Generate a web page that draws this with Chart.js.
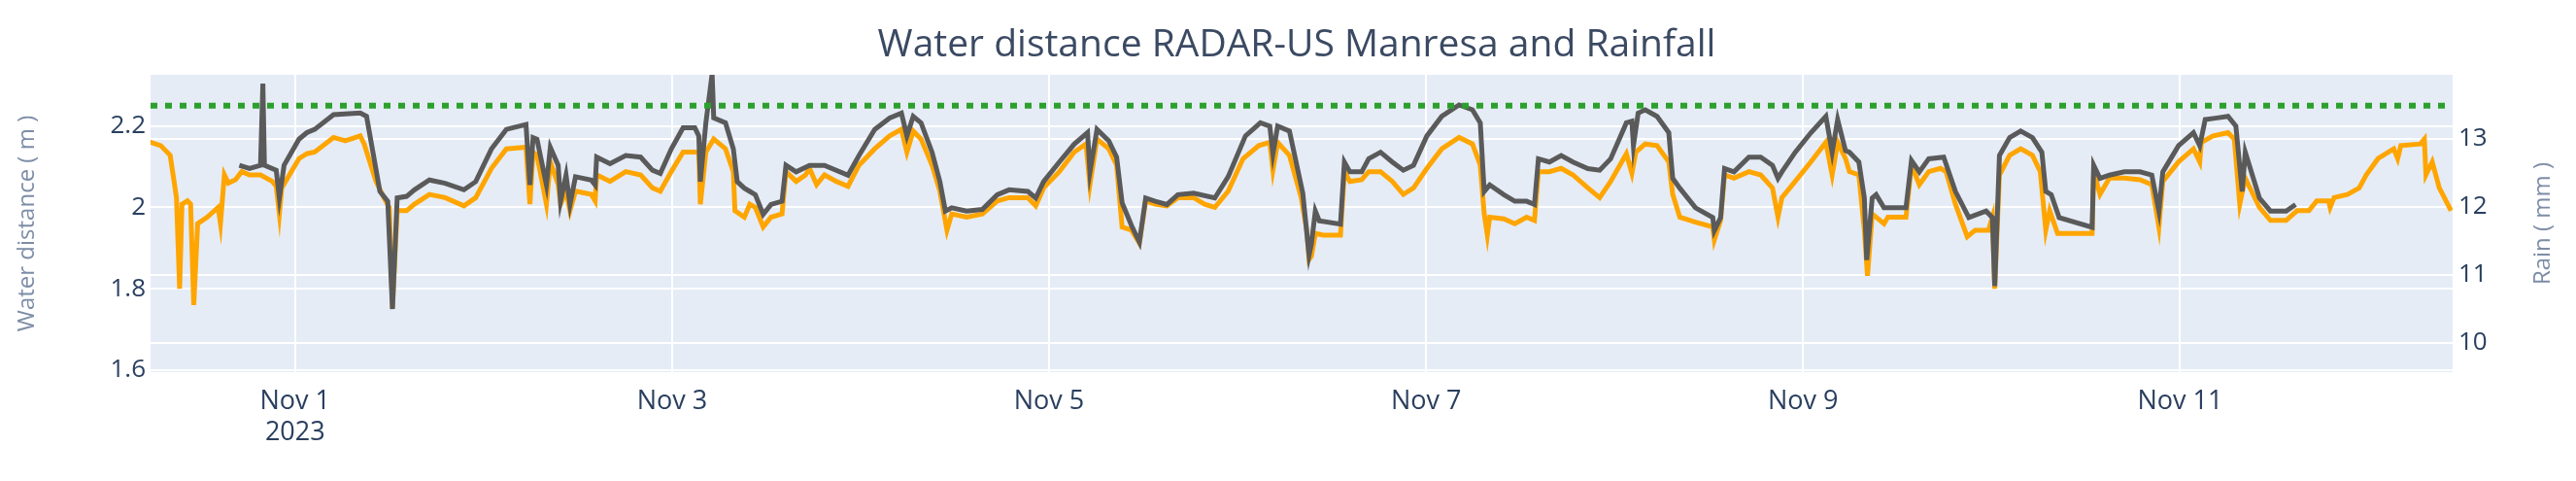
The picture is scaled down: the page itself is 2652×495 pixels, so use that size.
<!DOCTYPE html>
<html><head><meta charset="utf-8">
<script src="https://cdn.jsdelivr.net/npm/chart.js@4"></script>
<style>html,body{margin:0;padding:0;background:#fff}canvas{display:block}</style>
</head><body>
<canvas id="c" width="2652" height="495"></canvas>
<script>
// hours since 2023-10-31 00:00
const waterHours = [4.95,6.9,8.1,8.9,9.3,9.6,10.3,10.7,11.1,11.6,12.8,14.2,14.5,15.0,15.5,16.4,17.2,18.2,19.6,21.1,21.6,22.0,22.3,24.5,25.5,26.5,28.9,30.4,32.3,32.8,34.3,35.3,36.0,36.4,37.0,38.2,39.2,41.1,43.1,45.5,47.0,49.0,50.9,53.4,53.9,54.3,54.8,56.0,56.5,57.5,57.8,58.5,59.0,59.7,61.7,62.2,62.4,64.1,66.1,68.0,69.5,70.5,71.9,73.4,75.4,75.6,76.3,77.3,78.8,79.8,80.0,81.2,81.9,82.6,83.6,84.6,86.0,86.5,87.8,89.0,89.5,90.4,91.4,92.9,94.4,95.8,97.8,99.7,101.2,101.9,102.7,103.7,105.1,106.1,107.0,107.6,109.5,111.5,113.4,114.9,117.3,118.3,119.3,121.3,123.2,124.7,125.2,126.1,127.6,128.6,129.3,130.5,131.5,132.3,133.5,135.0,136.4,138.4,139.8,141.1,142.8,144.7,146.7,148.1,148.5,149.1,150.6,152.1,152.8,153.1,153.4,153.9,154.9,157.1,157.6,158.3,159.8,160.7,162.2,163.7,165.1,166.4,168.1,170.0,172.2,173.9,174.9,175.4,175.8,176.1,177.9,179.3,180.8,181.8,182.3,183.7,185.2,186.7,188.6,190.1,191.5,193.5,194.2,194.7,195.9,197.4,198.9,199.4,200.3,202.3,204.5,204.7,205.5,206.0,207.2,209.1,210.6,212.1,212.8,213.3,215.0,217.0,218.9,219.7,220.4,221.4,221.9,223.1,223.8,224.2,224.8,226.3,226.8,227.6,229.1,229.8,230.8,232.0,233.5,234.2,235.4,236.9,237.9,239.6,240.1,240.4,241.0,242.3,243.7,245.2,246.2,246.9,247.4,248.4,252.8,253.0,253.8,255.0,256.9,258.9,260.4,261.3,261.8,263.8,265.7,266.5,266.7,268.2,270.1,270.9,271.6,272.3,274.1,275.5,277.5,278.9,280.4,281.4,282.9,283.1,283.6,285.3,286.8,287.7,289.2,291.2,291.7,292.1,294.6,295.1,295.3,296.1,297.0,298.5];
const waterValues = [2.164,2.152,2.128,2.024,1.800,2.008,2.016,2.008,1.760,1.960,1.976,2.000,1.960,2.080,2.060,2.068,2.088,2.080,2.080,2.064,2.052,1.984,2.048,2.120,2.132,2.136,2.172,2.164,2.176,2.156,2.064,2.024,2.000,1.752,1.992,1.992,2.008,2.032,2.024,2.004,2.024,2.096,2.144,2.148,2.008,2.136,2.128,2.008,2.112,2.056,2.008,2.040,1.992,2.040,2.032,2.016,2.080,2.064,2.088,2.080,2.048,2.040,2.088,2.136,2.136,2.008,2.136,2.168,2.144,2.088,1.992,1.976,2.008,2.000,1.952,1.976,1.984,2.088,2.064,2.080,2.096,2.056,2.080,2.064,2.052,2.104,2.144,2.176,2.192,2.136,2.188,2.168,2.104,2.040,1.944,1.984,1.976,1.984,2.016,2.024,2.024,2.004,2.048,2.088,2.136,2.156,2.056,2.168,2.144,2.104,1.952,1.944,1.912,2.016,2.008,2.004,2.024,2.024,2.008,2.000,2.040,2.120,2.152,2.160,2.092,2.160,2.128,2.024,1.944,1.872,1.880,1.936,1.932,1.932,2.088,2.064,2.068,2.088,2.088,2.064,2.032,2.048,2.096,2.144,2.172,2.156,2.104,1.984,1.932,1.976,1.972,1.960,1.976,1.968,2.088,2.088,2.096,2.080,2.048,2.024,2.064,2.132,2.084,2.136,2.156,2.152,2.112,2.032,1.976,1.964,1.952,1.920,1.968,2.080,2.072,2.088,2.080,2.048,1.976,2.024,2.064,2.112,2.160,2.080,2.160,2.120,2.088,2.080,1.944,1.832,1.984,1.960,1.976,1.976,1.976,2.104,2.056,2.088,2.096,2.088,2.008,1.928,1.944,1.944,1.976,1.800,2.080,2.128,2.144,2.128,2.088,1.944,1.992,1.936,1.936,2.088,2.032,2.072,2.072,2.068,2.056,1.952,2.064,2.112,2.144,2.112,2.160,2.176,2.184,2.168,2.008,2.072,2.000,1.968,1.968,1.992,1.992,2.016,2.016,2.000,2.024,2.032,2.048,2.080,2.120,2.144,2.120,2.152,2.156,2.168,2.080,2.112,2.048,1.992];
const rainHours = [16.9,18.2,19.6,19.9,20.1,21.6,22.0,22.6,24.5,25.5,26.5,28.9,32.3,33.1,34.8,35.8,36.4,37.0,38.2,39.2,41.1,43.1,45.5,47.0,49.0,50.9,53.4,53.9,54.3,54.8,56.0,56.5,57.5,57.8,58.5,59.0,59.7,61.7,62.2,62.4,64.1,66.1,68.0,69.5,70.5,71.9,73.4,74.9,75.4,75.6,76.3,77.1,77.3,78.8,79.8,80.3,81.2,81.9,82.6,83.6,84.6,86.0,86.5,87.8,89.5,91.4,94.4,95.8,97.8,99.7,101.2,101.9,102.7,103.7,105.1,106.1,106.8,107.6,109.5,111.5,113.4,114.9,117.3,118.3,119.3,121.3,123.2,124.9,125.2,126.1,127.6,128.6,129.3,130.5,131.5,132.3,133.5,135.0,136.4,138.4,141.1,142.8,145.0,146.9,148.1,148.5,149.1,150.6,152.3,153.1,153.4,153.9,154.4,157.1,157.6,158.3,159.8,160.7,162.2,163.7,165.1,166.4,168.1,170.0,172.2,173.9,174.9,175.4,176.1,177.9,179.3,180.8,181.8,182.3,183.7,185.2,186.7,188.6,190.1,191.5,193.5,194.2,194.4,195.0,195.9,197.4,198.9,199.4,200.3,202.3,204.5,204.7,205.5,206.0,207.2,209.1,210.6,212.1,212.8,213.3,215.0,217.0,218.9,219.7,220.4,221.4,221.9,223.1,223.8,224.1,224.8,225.3,226.3,227.6,229.1,229.8,230.8,232.0,233.9,235.4,237.1,239.3,240.1,240.4,241.0,242.3,243.7,245.2,246.4,246.9,247.6,248.6,252.8,253.0,253.8,255.0,256.9,258.9,260.4,261.3,261.8,263.8,265.7,266.5,267.2,268.7,270.1,271.1,271.9,272.3,274.1,275.5,277.5,278.7];
const rainValues = [12.610,12.562,12.610,13.810,12.610,12.538,12.130,12.610,12.994,13.090,13.138,13.354,13.378,13.330,12.226,12.082,10.498,12.130,12.154,12.250,12.394,12.346,12.250,12.370,12.850,13.138,13.210,12.322,13.018,12.994,12.322,12.874,12.610,12.082,12.466,12.034,12.442,12.394,12.322,12.730,12.634,12.754,12.730,12.538,12.490,12.850,13.162,13.162,13.042,12.370,13.234,13.954,13.306,13.234,12.850,12.370,12.274,12.226,12.178,11.890,12.034,12.082,12.610,12.514,12.610,12.610,12.466,12.754,13.138,13.306,13.378,13.042,13.330,13.234,12.802,12.370,11.938,11.986,11.938,11.962,12.178,12.250,12.226,12.130,12.370,12.658,12.922,13.090,12.514,13.138,12.970,12.730,12.058,11.722,11.482,12.130,12.082,12.034,12.178,12.202,12.130,12.442,13.042,13.234,13.186,12.778,13.186,13.114,12.202,11.290,11.458,11.938,11.794,11.746,12.658,12.514,12.514,12.706,12.802,12.658,12.538,12.610,13.042,13.330,13.498,13.426,13.234,12.226,12.322,12.178,12.082,12.082,12.034,12.706,12.658,12.754,12.658,12.562,12.538,12.706,13.234,13.258,12.898,13.378,13.426,13.330,13.090,12.418,12.274,11.986,11.842,11.650,11.842,12.562,12.514,12.730,12.730,12.610,12.418,12.514,12.802,13.090,13.330,12.802,13.282,12.826,12.802,12.658,12.130,11.218,12.130,12.178,11.986,11.986,11.986,12.682,12.514,12.706,12.730,12.226,11.842,11.938,11.842,10.834,12.754,13.018,13.114,13.018,12.802,12.226,12.178,11.842,11.698,12.610,12.418,12.466,12.514,12.514,12.466,11.938,12.514,12.898,13.090,12.898,13.282,13.306,13.330,13.186,12.226,12.802,12.130,11.938,11.938,12.034];
const thresholdValue = 2.25;
const xTickHours = [24,72,120,168,216,264];
const xTickLabels = [["Nov 1","2023"],"Nov 3","Nov 5","Nov 7","Nov 9","Nov 11"];
const leftTicks = [1.6,1.8,2.0,2.2];
const leftTickLabels = ["1.6","1.8","2","2.2"];
const rightTicks = [10,11,12,13];
const rightTickLabels = ["10","11","12","13"];
const X_MIN = 5.6, X_MAX = 298.7;

const water = waterHours.map((h,i)=>({x:h,y:waterValues[i]}));
const rain = rainHours.map((h,i)=>({x:h,y:rainValues[i]}));
const tickFont = {family:'"Open Sans"', size:26};
const tickColor = '#2a3f5f';

const deco = {
  id:'deco',
  beforeDraw(ch){
    const {ctx, chartArea:a} = ch;
    ctx.save(); ctx.fillStyle='#e5ecf6';
    ctx.fillRect(a.left,a.top,a.right-a.left,a.bottom-a.top); ctx.restore();
  },
  afterDraw(ch){
    const ctx = ch.ctx; ctx.save();
    ctx.fillStyle='#3b4a63'; ctx.font='39px "Open Sans"';
    ctx.textAlign='center'; ctx.textBaseline='middle';
    ctx.fillText('Water distance RADAR-US Manresa and Rainfall', 1335, 47);
    ctx.fillStyle='#7d8da6'; ctx.font='24px "Open Sans"';
    ctx.translate(28,230); ctx.rotate(-Math.PI/2); ctx.fillText('Water distance ( m )',0,0);
    ctx.setTransform(1,0,0,1,0,0);
    ctx.translate(2618,230); ctx.rotate(-Math.PI/2); ctx.fillText('Rain ( mm )',0,0);
    ctx.restore();
  }
};

new Chart(document.getElementById('c'), {
  type:'line',
  data:{datasets:[
    {label:'thr', data:[{x:X_MIN,y:thresholdValue},{x:X_MAX,y:thresholdValue}], yAxisID:'y', borderColor:'#2ca02c', borderWidth:6, borderDash:[7,8], pointRadius:0},
    {label:'Rain', data:rain, yAxisID:'y2', borderColor:'#5a5a5a', borderWidth:5, pointRadius:0, tension:0},
    {label:'Water', data:water, yAxisID:'y', borderColor:'#ffa500', borderWidth:5, pointRadius:0, tension:0},
  ]},
  options:{
    responsive:false, animation:false, devicePixelRatio:1,
    layout:{padding:{top:77,left:0,right:0,bottom:0}},
    plugins:{legend:{display:false}, tooltip:{enabled:false}, title:{display:false}},
    scales:{
      x:{type:'linear', min:X_MIN, max:X_MAX,
        afterBuildTicks:s=>{s.ticks = xTickHours.map(v=>({value:v}));},
        afterFit:s=>{s.height=112;},
        grid:{color:'#ffffff', lineWidth:2, drawTicks:false}, border:{display:false},
        ticks:{padding:14, font:{family:'"Open Sans"',size:27}, color:tickColor, maxRotation:0, autoSkip:false,
          callback:(v)=>{const i=xTickHours.indexOf(v); return i>=0?xTickLabels[i]:'';}}},
      y:{position:'left', min:1.595, max:2.326,
        afterBuildTicks:s=>{s.ticks = leftTicks.map(v=>({value:v}));},
        afterFit:s=>{s.width=155;},
        grid:{color:'#ffffff', lineWidth:2, drawTicks:false}, border:{display:false},
        ticks:{padding:5, font:tickFont, color:tickColor,
          callback:(v)=>{const i=leftTicks.findIndex(t=>Math.abs(t-v)<1e-6); return i>=0?leftTickLabels[i]:'';}}},
      y2:{position:'right', min:9.57, max:13.94,
        afterBuildTicks:s=>{s.ticks = rightTicks.map(v=>({value:v}));},
        afterFit:s=>{s.width=127;},
        grid:{color:'#ffffff', lineWidth:2, drawTicks:false}, border:{display:false},
        ticks:{padding:6, font:tickFont, color:tickColor,
          callback:(v)=>{const i=rightTicks.indexOf(v); return i>=0?rightTickLabels[i]:'';}}}
    }
  },
  plugins:[deco]
});
</script>
</body></html>
